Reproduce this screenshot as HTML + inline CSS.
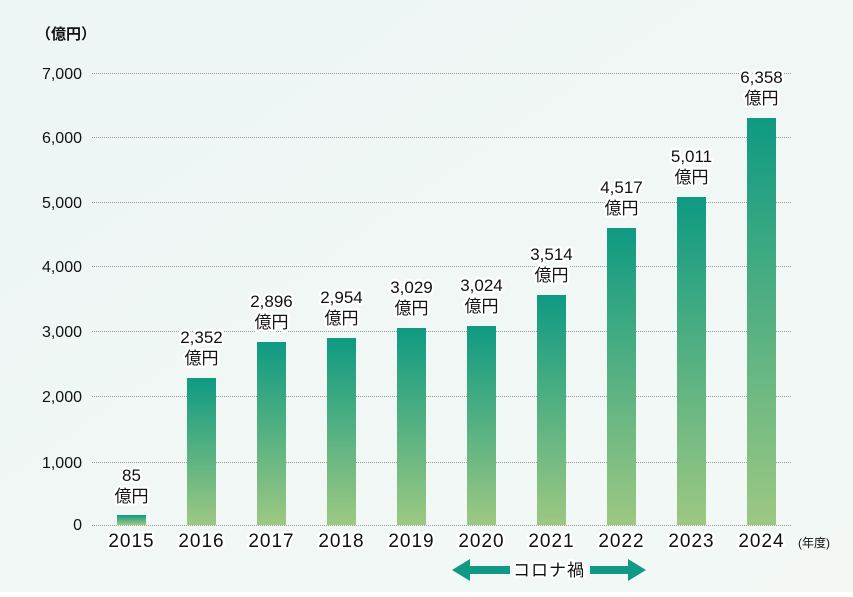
<!DOCTYPE html>
<html><head><meta charset="utf-8"><style>
body{margin:0}
svg text{font-family:"Liberation Sans","Noto Sans CJK JP",sans-serif;fill:#111}
.o{stroke:#fff;stroke-width:5;stroke-linejoin:round;paint-order:stroke}
</style></head><body>
<svg width="853" height="592" viewBox="0 0 853 592" xmlns="http://www.w3.org/2000/svg">
<defs>
<linearGradient id="bg" x1="0" y1="0" x2="1" y2="1"><stop offset="0" stop-color="#edf6f5"/><stop offset="1" stop-color="#f3f8f5"/></linearGradient>
<linearGradient id="g" x1="0" y1="0" x2="0" y2="1" gradientUnits="objectBoundingBox"><stop offset="0" stop-color="#0e9a82"/><stop offset="1" stop-color="#9dc882"/></linearGradient>
</defs>
<rect width="853" height="592" fill="url(#bg)"/>
<text x="36" y="39" font-size="15" font-weight="bold">（億円）</text>
<g stroke="#999" stroke-width="1" stroke-dasharray="1,1">
<line x1="92" x2="792" y1="73.5" y2="73.5"/><line x1="92" x2="792" y1="137.5" y2="137.5"/>
<line x1="92" x2="792" y1="202.5" y2="202.5"/><line x1="92" x2="792" y1="266.5" y2="266.5"/>
<line x1="92" x2="792" y1="331.5" y2="331.5"/><line x1="92" x2="792" y1="396.5" y2="396.5"/>
<line x1="92" x2="792" y1="462.5" y2="462.5"/><line x1="92" x2="792" y1="525.5" y2="525.5"/>
</g>
<g font-size="16" text-anchor="end">
<text x="82" y="79">7,000</text><text x="82" y="143">6,000</text><text x="82" y="208">5,000</text>
<text x="82" y="272">4,000</text><text x="82" y="337">3,000</text><text x="82" y="402">2,000</text>
<text x="82" y="468">1,000</text><text x="82" y="530">0</text>
</g>
<g fill="url(#g)">
<rect x="117" y="515" width="29" height="10"/>
<rect x="187" y="378" width="29" height="147"/>
<rect x="257" y="342" width="29" height="183"/>
<rect x="327" y="338" width="29" height="187"/>
<rect x="397" y="328" width="29" height="197"/>
<rect x="467" y="326" width="29" height="199"/>
<rect x="537" y="295" width="29" height="230"/>
<rect x="607" y="228" width="29" height="297"/>
<rect x="677" y="197" width="29" height="328"/>
<rect x="747" y="118" width="29" height="407"/>
</g>
<g font-size="17" text-anchor="middle">
<text class="o" x="131.5" y="481">85</text><text class="o" x="131.5" y="502">億円</text>
<text class="o" x="201.5" y="343">2,352</text><text class="o" x="201.5" y="364">億円</text>
<text class="o" x="271.5" y="307">2,896</text><text class="o" x="271.5" y="328">億円</text>
<text class="o" x="341.5" y="303">2,954</text><text class="o" x="341.5" y="324">億円</text>
<text class="o" x="411.5" y="293">3,029</text><text class="o" x="411.5" y="314">億円</text>
<text class="o" x="481.5" y="291">3,024</text><text class="o" x="481.5" y="312">億円</text>
<text class="o" x="551.5" y="260">3,514</text><text class="o" x="551.5" y="281">億円</text>
<text class="o" x="621.5" y="193">4,517</text><text class="o" x="621.5" y="214">億円</text>
<text class="o" x="691.5" y="162">5,011</text><text class="o" x="691.5" y="183">億円</text>
<text class="o" x="761.5" y="83">6,358</text><text class="o" x="761.5" y="104">億円</text>
</g>
<g font-size="19" text-anchor="middle" letter-spacing="1">
<text class="o" x="131.5" y="547">2015</text><text class="o" x="201.5" y="547">2016</text>
<text class="o" x="271.5" y="547">2017</text><text class="o" x="341.5" y="547">2018</text>
<text class="o" x="411.5" y="547">2019</text><text class="o" x="481.5" y="547">2020</text>
<text class="o" x="551.5" y="547">2021</text><text class="o" x="621.5" y="547">2022</text>
<text class="o" x="691.5" y="547">2023</text><text class="o" x="761.5" y="547">2024</text>
</g>
<text x="798" y="547" font-size="12">(年度)</text>
<g fill="#109a85">
<polygon points="452,570 470,559 470,566 510,566 510,574 470,574 470,581"/>
<polygon points="646,570 628,559 628,566 590,566 590,574 628,574 628,581"/>
</g>
<text class="o" x="549" y="576" font-size="17" text-anchor="middle" letter-spacing="1">コロナ禍</text>
</svg>
</body></html>
